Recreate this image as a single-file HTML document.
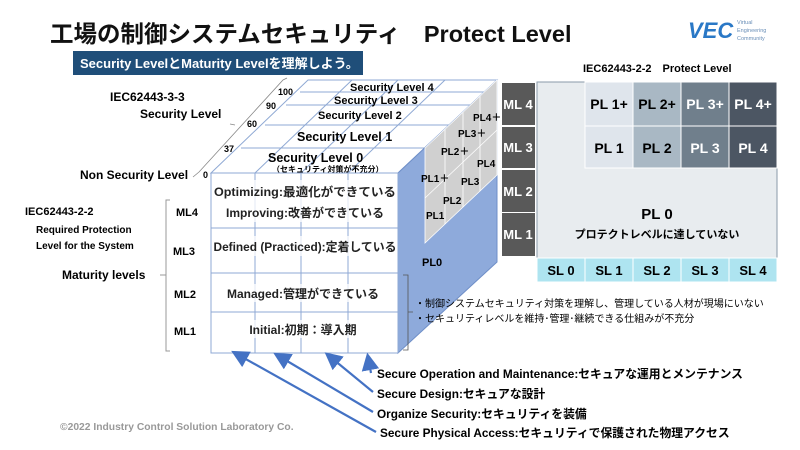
<!DOCTYPE html>
<html><head><meta charset="utf-8"><style>
body{margin:0;background:#fff;}
svg{display:block}
text{font-family:"Liberation Sans","Noto Sans CJK JP",sans-serif;}
</style></head><body>
<svg width="800" height="450" viewBox="0 0 800 450" xmlns="http://www.w3.org/2000/svg">
<rect width="800" height="450" fill="#fff"/>
<text x="50" y="42" font-size="23.5" font-weight="bold" fill="#111">工場の制御システムセキュリティ　Protect Level</text>
<rect x="73" y="51" width="290" height="24" fill="#1f4e79"/>
<text x="80" y="68" font-size="13" font-weight="bold" fill="#fff">Security LevelとMaturity Levelを理解しよう。</text>
<!-- logo -->
<text x="688" y="38" font-size="22" font-weight="bold" fill="#2a78c6" font-style="italic">VEC</text>
<text x="737" y="24" font-size="5.5" fill="#6a8fb8">Virtual</text>
<text x="737" y="32" font-size="5.5" fill="#6a8fb8">Engineering</text>
<text x="737" y="40" font-size="5.5" fill="#6a8fb8">Community</text>

<!-- left labels -->
<text x="110" y="101" font-size="12" font-weight="bold">IEC62443-3-3</text>
<text x="140" y="118" font-size="12" font-weight="bold">Security Level</text>
<text x="80" y="179" font-size="12" font-weight="bold">Non Security Level</text>
<text x="25" y="215" font-size="11" font-weight="bold">IEC62443-2-2</text>
<text x="36" y="233" font-size="10" font-weight="bold">Required Protection</text>
<text x="36" y="249" font-size="10" font-weight="bold">Level for the System</text>
<text x="62" y="279" font-size="12" font-weight="bold">Maturity levels</text>
<path d="M170,200 H166 V351 H170 M166,275 H160" fill="none" stroke="#999" stroke-width="1"/>
<text x="176" y="216" font-size="11" font-weight="bold">ML4</text>
<text x="173" y="255" font-size="11" font-weight="bold">ML3</text>
<text x="174" y="298" font-size="11" font-weight="bold">ML2</text>
<text x="174" y="335" font-size="11" font-weight="bold">ML1</text>

<!-- ruler brace -->
<path d="M193,177 L199,172 L283,80 L287,78 M235,125 L230,124" fill="none" stroke="#888" stroke-width="0.8"/>
<text x="203" y="178" font-size="9" font-weight="bold">0</text>
<text x="224" y="152" font-size="9" font-weight="bold">37</text>
<text x="247" y="127" font-size="9" font-weight="bold">60</text>
<text x="266" y="109" font-size="9" font-weight="bold">90</text>
<text x="278" y="95" font-size="9" font-weight="bold">100</text>

<!-- top face -->
<polygon points="211,173 308,80 497,80 398,173" fill="#fff" stroke="#8fa9d4"/>
<g stroke="#8fa9d4" stroke-width="1">
<line x1="300" y1="92" x2="487" y2="92"/>
<line x1="286" y1="105" x2="473" y2="105"/>
<line x1="265" y1="125" x2="452" y2="125"/>
<line x1="241" y1="148" x2="428" y2="148"/>
<line x1="255" y1="173" x2="352" y2="80"/>
<line x1="301" y1="173" x2="398" y2="80"/>
<line x1="348" y1="173" x2="445" y2="80"/>
</g>
<text x="350" y="91" font-size="11" font-weight="bold">Security Level 4</text>
<text x="334" y="104" font-size="11" font-weight="bold">Security Level 3</text>
<text x="318" y="119" font-size="11" font-weight="bold">Security Level 2</text>
<text x="297" y="141" font-size="12.5" font-weight="bold">Security Level 1</text>
<text x="268" y="162" font-size="12.5" font-weight="bold">Security Level 0</text>
<text x="272" y="172" font-size="8" font-weight="bold">（セキュリティ対策が不充分）</text>

<!-- right face -->
<polygon points="398,173 497,80 497,262 398,353" fill="#8eaadb" stroke="#6f8fc8"/>
<polygon points="425,148 497,80 497,175 425,243" fill="#d0d0d0" stroke="#fff" stroke-width="0.8"/>
<g stroke="#fff" stroke-width="0.8">
<line x1="425" y1="198" x2="497" y2="130"/>
<line x1="445" y1="129" x2="445" y2="224"/>
<line x1="463" y1="112" x2="463" y2="207"/>
<line x1="480" y1="96" x2="480" y2="191"/>
</g>
<g font-size="10" font-weight="bold">
<text x="473" y="121">PL4＋</text>
<text x="458" y="137">PL3＋</text>
<text x="441" y="155">PL2＋</text>
<text x="477" y="167">PL4</text>
<text x="421" y="182">PL1＋</text>
<text x="461" y="185">PL3</text>
<text x="443" y="204">PL2</text>
<text x="426" y="219">PL1</text>
<text x="422" y="266" font-size="11">PL0</text>
</g>

<!-- front face -->
<rect x="211" y="173" width="187" height="180" fill="#fff" stroke="#8fa9d4"/>
<g stroke="#8fa9d4">
<line x1="255" y1="173" x2="255" y2="353"/>
<line x1="301" y1="173" x2="301" y2="353"/>
<line x1="348" y1="173" x2="348" y2="353"/>
<line x1="211" y1="228" x2="398" y2="228"/>
<line x1="211" y1="273" x2="398" y2="273"/>
<line x1="211" y1="312" x2="398" y2="312"/>
</g>
<g font-size="12" text-anchor="middle" font-weight="bold" fill="#222">
<rect x="212" y="180" width="185" height="42" fill="#fff" opacity="0.75"/>
<rect x="212" y="236" width="185" height="20" fill="#fff" opacity="0.75"/>
<rect x="220" y="284" width="168" height="18" fill="#fff" opacity="0.75"/>
<rect x="240" y="320" width="130" height="18" fill="#fff" opacity="0.75"/>
<text x="305" y="196" textLength="182" lengthAdjust="spacingAndGlyphs">Optimizing:最適化ができている</text>
<text x="305" y="217">Improving:改善ができている</text>
<text x="305" y="251" textLength="183" lengthAdjust="spacingAndGlyphs">Defined (Practiced):定着している</text>
<text x="303" y="298">Managed:管理ができている</text>
<text x="303" y="334">Initial:初期：導入期</text>
</g>
<path d="M403,275 H408 V350 H403 M408,312 H413" fill="none" stroke="#555" stroke-width="0.8"/>
<text x="415" y="307" font-size="10">・制御システムセキュリティ対策を理解し、管理している人材が現場にいない</text>
<text x="415" y="322" font-size="10">・セキュリティレベルを維持･管理･継続できる仕組みが不充分</text>

<!-- arrows -->
<defs><marker id="ah" markerWidth="8" markerHeight="8" refX="6" refY="4" orient="auto"><path d="M0,0 L8,4 L0,8 z" fill="#4472c4"/></marker></defs>
<g stroke="#4472c4" stroke-width="2.2" marker-end="url(#ah)">
<line x1="371" y1="373" x2="368" y2="357"/>
<line x1="373" y1="392" x2="328" y2="355"/>
<line x1="373" y1="412" x2="277" y2="355"/>
<line x1="376" y1="432" x2="235" y2="353"/>
</g>
<g font-size="11.8" font-weight="bold">
<text x="377" y="378">Secure Operation and Maintenance:セキュアな運用とメンテナンス</text>
<text x="377" y="398">Secure Design:セキュアな設計</text>
<text x="377" y="418">Organize Security:セキュリティを装備</text>
<text x="380" y="437">Secure Physical Access:セキュリティで保護された物理アクセス</text>
</g>
<text x="60" y="430" font-size="10.3" font-weight="bold" fill="#999">©2022 Industry Control Solution Laboratory Co.</text>

<!-- right table -->
<text x="583" y="72" font-size="11" font-weight="bold">IEC62443-2-2　Protect Level</text>
<g fill="#595959">
<rect x="502" y="83" width="33" height="42"/>
<rect x="502" y="127" width="33" height="41"/>
<rect x="502" y="170" width="33" height="42"/>
<rect x="502" y="213" width="33" height="43"/>
</g>
<g fill="#fff" font-size="13" font-weight="bold" text-anchor="middle">
<text x="518" y="109">ML 4</text><text x="518" y="152">ML 3</text><text x="518" y="196">ML 2</text><text x="518" y="239">ML 1</text>
</g>
<rect x="537" y="82" width="240" height="176" fill="#e8ecef" stroke="#8a9aa8"/>
<rect x="585" y="82" width="48" height="44" fill="#dfe5ec" stroke="#fff"/>
<rect x="633" y="82" width="48" height="44" fill="#a9b8c4" stroke="#fff"/>
<rect x="681" y="82" width="48" height="44" fill="#707f8c" stroke="#fff"/>
<rect x="729" y="82" width="48" height="44" fill="#4c5663" stroke="#fff"/>
<rect x="585" y="126" width="48" height="42" fill="#dfe5ec" stroke="#fff"/>
<rect x="633" y="126" width="48" height="42" fill="#a9b8c4" stroke="#fff"/>
<rect x="681" y="126" width="48" height="42" fill="#707f8c" stroke="#fff"/>
<rect x="729" y="126" width="48" height="42" fill="#4c5663" stroke="#fff"/>
<g font-size="14" font-weight="bold" text-anchor="middle">
<text x="609" y="109">PL 1+</text><text x="657" y="109">PL 2+</text><text x="705" y="109" fill="#fff">PL 3+</text><text x="753" y="109" fill="#fff">PL 4+</text>
<text x="609" y="153">PL 1</text><text x="657" y="153">PL 2</text><text x="705" y="153" fill="#fff">PL 3</text><text x="753" y="153" fill="#fff">PL 4</text>
<text x="657" y="219" font-size="15">PL 0</text>
<text x="657" y="238" font-size="11">プロテクトレベルに達していない</text>
</g>
<g fill="#aee4f0" stroke="#fff">
<rect x="537" y="258" width="48" height="24"/><rect x="585" y="258" width="48" height="24"/><rect x="633" y="258" width="48" height="24"/><rect x="681" y="258" width="48" height="24"/><rect x="729" y="258" width="48" height="24"/>
</g>
<g font-size="13" font-weight="bold" text-anchor="middle">
<text x="561" y="275">SL 0</text><text x="609" y="275">SL 1</text><text x="657" y="275">SL 2</text><text x="705" y="275">SL 3</text><text x="753" y="275">SL 4</text>
</g>
</svg>
</body></html>
